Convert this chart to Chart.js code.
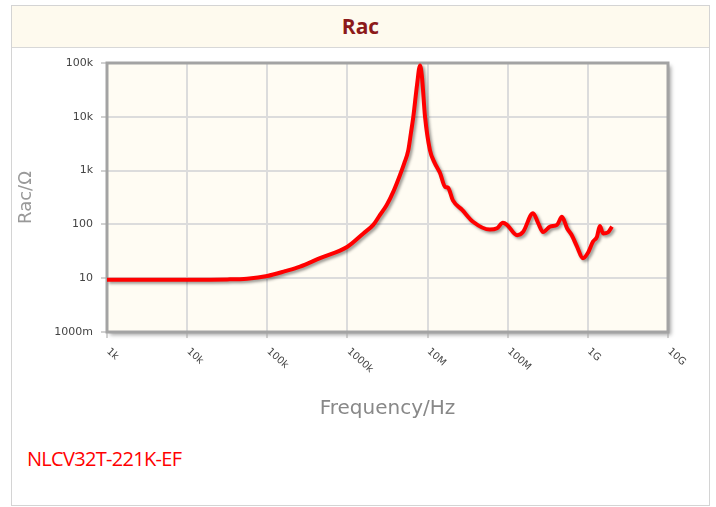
<!DOCTYPE html>
<html>
<head>
<meta charset="utf-8">
<script src="https://cdn.jsdelivr.net/npm/chart.js@4.4.0/dist/chart.umd.min.js"></script>
<style>
  body { margin:0; background:#fff; }
  #box { position:absolute; left:11px; top:5px; width:697px; height:499px; border:1px solid #d4d4d4; background:#fff; }
  #head { height:41px; line-height:41px; background:#fefaee; border-bottom:1px solid #d8d8d8; text-align:center;
          font-family:"Open Sans", sans-serif; font-weight:bold; font-size:21px; color:#8c1a1a; }
  #wrap { position:absolute; left:0px; top:42px; width:697px; height:392px; }
  #part { position:absolute; left:15px; top:443px; line-height:20px; font-family:"Open Sans", sans-serif; font-size:20px;
          letter-spacing:-0.7px; color:#ff0000; }
</style>
</head>
<body>
<div id="box">
  <div id="head">Rac</div>
  <div id="wrap"><canvas id="mycanvas"></canvas></div>
  <div id="part">NLCV32T-221K-EF</div>
</div>
<script>
// frequency (Hz) and Rac (ohm)
var freq = [1e3, 3.16e3, 1e4, 3.16e4, 5.6e4, 1e5, 1.67e5, 2.56e5, 4.55e5, 1e6, 1.58e6, 2.1e6, 2.55e6, 3.09e6, 3.74e6,
            4.53e6, 5.1e6, 5.75e6, 6.2e6, 6.64e6, 7.4e6, 8.05e6, 8.5e6, 9.3e6, 1.07e7, 1.23e7, 1.43e7, 1.65e7, 1.8e7, 2.07e7, 2.7e7,
            3.69e7, 6.0e7, 7.35e7, 8.7e7, 9.8e7, 1.31e8, 1.55e8, 2.07e8, 2.39e8, 2.76e8, 3.37e8, 4.12e8, 4.75e8,
            5.5e8, 6.3e8, 7.3e8, 8.7e8, 1e9, 1.16e9, 1.3e9, 1.41e9, 1.55e9, 1.78e9, 2.0e9];
var rac = [9.4, 9.4, 9.4, 9.5, 9.8, 11, 13.5, 16.4, 23.7, 38.5, 68, 98, 150, 230, 407,
           830, 1350, 2400, 5000, 10000, 40000, 90000, 56000, 10000, 2400, 1380, 900, 500, 480, 280, 186,
           112, 80, 85, 107, 98, 63, 72, 162, 107, 72, 91, 98, 138,
           85, 63, 39, 23.4, 29.5, 48, 59, 93, 68, 71, 91];

var xTicks = [1e3, 1e4, 1e5, 1e6, 1e7, 1e8, 1e9, 1e10];
var xLabels = ['1k', '10k', '100k', '1000k', '10M', '100M', '1G', '10G'];
var yTicks = [1, 10, 100, 1e3, 1e4, 1e5];
var yLabels = ['1000m', '10', '100', '1k', '10k', '100k'];

var points = [];
for (var i in freq) {
  points.push({x: freq[i], y: rac[i]});
}

var framePlugin = {
  id: 'frame',
  beforeDraw: function(chart) {
    var ctx = chart.ctx, a = chart.chartArea;
    ctx.save();
    ctx.shadowColor = 'rgba(0,0,0,0.35)';
    ctx.shadowOffsetX = 3;
    ctx.shadowOffsetY = 3;
    ctx.shadowBlur = 4;
    ctx.fillStyle = '#fffcf3';
    ctx.fillRect(a.left, a.top, a.right - a.left, a.bottom - a.top);
    ctx.restore();
  },
  beforeDatasetsDraw: function(chart) {
    var ctx = chart.ctx, a = chart.chartArea;
    ctx.save();
    ctx.strokeStyle = '#a3a3a3';
    ctx.lineWidth = 3;
    ctx.strokeRect(a.left, a.top, a.right - a.left, a.bottom - a.top);
    ctx.restore();
    ctx.save();
    ctx.shadowColor = 'rgba(0,0,0,0.4)';
    ctx.shadowOffsetX = 2;
    ctx.shadowOffsetY = 2;
    ctx.shadowBlur = 3;
  },
  afterDatasetsDraw: function(chart) {
    chart.ctx.restore();
  },
  afterDraw: function(chart) {
    var ctx = chart.ctx, xs = chart.scales.x;
    ctx.save();
    ctx.fillStyle = '#444';
    ctx.font = '10px "DejaVu Sans"';
    ctx.textAlign = 'left';
    ctx.textBaseline = 'middle';
    for (var i in xTicks) {
      var px = xs.getPixelForValue(xTicks[i]);
      ctx.save();
      ctx.translate(px + 1, chart.chartArea.bottom + 18);
      ctx.rotate(42 * Math.PI / 180);
      ctx.fillText(xLabels[i], 0, 0);
      ctx.restore();
    }
    ctx.restore();
  }
};

var ctx = document.getElementById('mycanvas');
var chart = new Chart(ctx, {
  type: 'line',
  data: {
    datasets: [{
      label: 'Rac',
      data: points,
      borderColor: '#ff0000',
      borderWidth: 4,
      pointRadius: 0,
      cubicInterpolationMode: 'monotone',
      fill: false
    }]
  },
  options: {
    responsive: true,
    maintainAspectRatio: false,
    animation: false,
    layout: { padding: { top: 15, right: 41, left: 0, bottom: 0 } },
    plugins: { legend: { display: false }, tooltip: { enabled: false } },
    scales: {
      x: {
        type: 'logarithmic',
        min: 1e3,
        max: 1e10,
        afterBuildTicks: function(scale) { scale.ticks = xTicks.map(function(v) { return {value: v}; }); },
        afterFit: function(scale) { scale.height = 108; },
        ticks: { display: false },
        grid: { color: '#dcdcdc', lineWidth: 2, tickLength: 6, tickColor: '#a3a3a3', tickWidth: 1 },
        border: { display: false },
        title: { display: true, text: 'Frequency/Hz', color: '#888', font: { family: 'DejaVu Sans', size: 20 }, padding: { top: 0, bottom: 19 } }
      },
      y: {
        type: 'logarithmic',
        min: 1,
        max: 1e5,
        afterBuildTicks: function(scale) { scale.ticks = yTicks.map(function(v) { return {value: v}; }); },
        afterFit: function(scale) { scale.width = 95; },
        ticks: {
          color: '#444',
          font: { family: 'DejaVu Sans', size: 11 },
          padding: 8,
          callback: function(v) { return yLabels[yTicks.indexOf(v)]; }
        },
        grid: { color: '#dcdcdc', lineWidth: 2, tickLength: 6, tickColor: '#a3a3a3', tickWidth: 1 },
        border: { display: false },
        title: { display: true, text: 'Rac/Ω', color: '#999', font: { family: 'DejaVu Sans', size: 18 }, padding: { top: 4, bottom: 0 } }
      }
    }
  },
  plugins: [framePlugin]
});
</script>
</body>
</html>
